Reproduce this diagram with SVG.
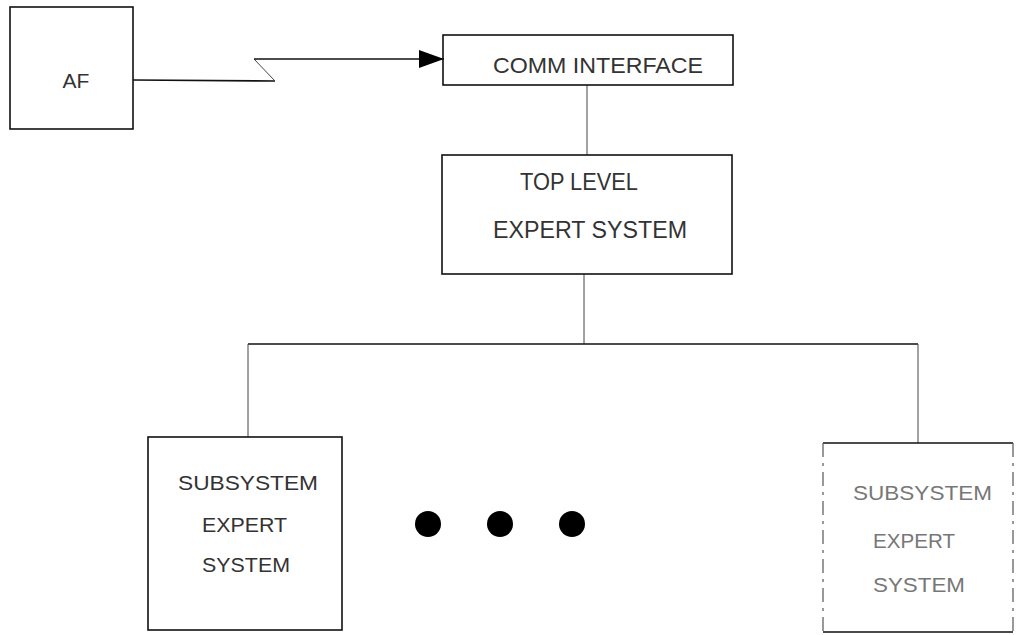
<svg xmlns="http://www.w3.org/2000/svg" width="1018" height="635" viewBox="0 0 1018 635">
<style>
.box{fill:none;stroke:#111;stroke-width:1.6}
.conn{fill:none;stroke:#111;stroke-width:1.6}
.thin{fill:none;stroke:#444;stroke-width:1}
.edge{fill:none;stroke:#111;stroke-width:1.6}
.side{fill:none;stroke:#555;stroke-width:1.2;stroke-dasharray:14 6 3 6}
.t{font-family:"Liberation Sans",Arial,sans-serif;fill:#333;}
.faint{fill:#777}
</style>
<defs>
<marker id="arrow" markerWidth="26" markerHeight="20" refX="25" refY="10" orient="auto" markerUnits="userSpaceOnUse">
<path d="M0,1 L25,10 L0,19 Z" fill="#000"/>
</marker>
</defs>
<rect width="1018" height="635" fill="#fff"/>
<g id="connectors">
<path class="conn" d="M133,80 L275,81"/>
<path class="thin" d="M275,81 L254,59"/>
<path class="conn" d="M254,59 L444,59" marker-end="url(#arrow)"/>
<path class="thin" d="M587,85 L587,155"/>
<path class="thin" d="M584,274 L584,344"/>
<path class="conn" d="M248,344 L918,344"/>
<path class="thin" d="M248,344 L248,437"/>
<path class="thin" d="M918,344 L918,443"/>
</g>
<g id="af">
<rect class="box" x="10" y="7" width="123" height="122"/>
<text class="t" x="76" y="88" font-size="21" text-anchor="middle">AF</text>
</g>
<g id="comm-interface">
<rect class="box" x="443" y="35" width="290" height="50"/>
<text class="t" x="598" y="73" font-size="22" text-anchor="middle" textLength="210" lengthAdjust="spacingAndGlyphs">COMM INTERFACE</text>
</g>
<g id="top-level">
<rect class="box" x="442" y="155" width="290" height="119"/>
<text class="t" x="520" y="190" font-size="23" textLength="118" lengthAdjust="spacingAndGlyphs">TOP LEVEL</text>
<text class="t" x="493" y="238" font-size="23" textLength="194" lengthAdjust="spacingAndGlyphs">EXPERT SYSTEM</text>
</g>
<g id="subsystem-1">
<rect class="box" x="148" y="437" width="194" height="193"/>
<text class="t" x="178" y="490" font-size="21" textLength="140" lengthAdjust="spacingAndGlyphs">SUBSYSTEM</text>
<text class="t" x="202" y="532" font-size="21" textLength="85" lengthAdjust="spacingAndGlyphs">EXPERT</text>
<text class="t" x="202" y="572" font-size="21" textLength="88" lengthAdjust="spacingAndGlyphs">SYSTEM</text>
</g>
<g id="ellipsis">
<circle cx="428" cy="524" r="13" fill="#000"/>
<circle cx="500" cy="524" r="13" fill="#000"/>
<circle cx="572" cy="524" r="13" fill="#000"/>
</g>
<g id="subsystem-n">
<path class="edge" d="M823,443 L1013,443 M823,632 L1013,632"/>
<path class="side" d="M823,443 L823,632 M1013,443 L1013,632"/>
<text class="t faint" x="853" y="500" font-size="21" textLength="139" lengthAdjust="spacingAndGlyphs">SUBSYSTEM</text>
<text class="t faint" x="873" y="548" font-size="21" textLength="82" lengthAdjust="spacingAndGlyphs">EXPERT</text>
<text class="t faint" x="873" y="592" font-size="21" textLength="92" lengthAdjust="spacingAndGlyphs">SYSTEM</text>
</g>
</svg>
